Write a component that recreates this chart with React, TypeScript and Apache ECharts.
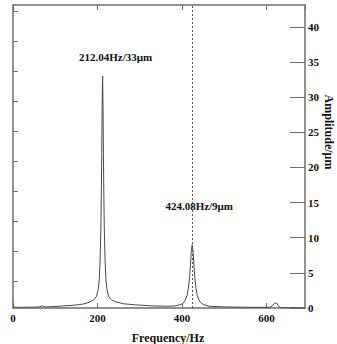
import React, { useEffect, useRef } from "react";
import * as echarts from "echarts";

// Amplitude spectrum samples: [frequency (Hz), amplitude (μm)]
const spectrum: [number, number][] = [
  [0, 0.6], [3, 0.1], [20, 0.1], [45, 0.12], [62, 0.15], [70, 0.3], [76, 0.15],
  [95, 0.2], [120, 0.3], [145, 0.4], [165, 0.55], [180, 0.8], [192, 1.2],
  [198, 1.7], [202, 2.8], [204, 4], [206, 6.5], [208, 11.5], [209, 16],
  [210, 22], [211, 29], [212.04, 33], [213, 29], [214, 22], [215, 16],
  [216, 11.5], [218, 6.5], [220, 4], [222, 2.8], [226, 1.7], [232, 1.2],
  [242, 0.9], [262, 0.6], [290, 0.45], [330, 0.3], [365, 0.25], [384, 0.3],
  [398, 0.5], [406, 0.9], [412, 1.8], [415, 2.8], [418, 4.5], [420, 6.2],
  [422, 8.1], [424.08, 9], [426, 8.1], [428, 6.2], [430, 4.5], [433, 2.8],
  [436, 1.8], [442, 0.9], [450, 0.5], [464, 0.25], [500, 0.15], [560, 0.1],
  [608, 0.1], [614, 0.3], [619, 0.7], [624, 0.7], [629, 0.2], [634, 0.05],
  [691, 0],
];

// Annotated peaks: [frequency (Hz), amplitude (μm)]
const peaks: [number, number][] = [
  [212.04, 33],
  [424.08, 9],
];
const peakLabels = ["212.04Hz/33μm", "424.08Hz/9μm"];
const peakLabelOffsets: [number, number][] = [
  [13, -19],
  [7, -39],
];

const leftTickValues = [0.9, 1.9, 2.9, 3.9, 4.9, 5.9, 6.9, 7.9, 8.9, 9.9];

const FONT = "'Liberation Serif', 'Times New Roman', serif";
const AXIS_COLOR = "#6e6e6e";

export default function App() {
  const ref = useRef<HTMLDivElement>(null);

  useEffect(() => {
    if (!ref.current) return;
    const chart = echarts.init(ref.current, undefined, { renderer: "svg" });

    const axisLine = { show: true, onZero: false, lineStyle: { color: AXIS_COLOR, width: 1.5 } };
    const tickStyle = { color: AXIS_COLOR, width: 1 };

    chart.setOption({
      animation: false,
      backgroundColor: "#ffffff",
      grid: {
        left: 13,
        right: 32,
        top: 5,
        bottom: 36,
        containLabel: false,
        outerBoundsMode: "none",
      },
      // Right-hand axis title, reading top to bottom
      graphic: [
        {
          type: "text",
          x: 329,
          y: 132,
          rotation: -Math.PI / 2,
          style: {
            text: "Amplitude/μm",
            fill: "#111",
            fontFamily: FONT,
            fontWeight: "bold",
            fontSize: 12,
            align: "center",
            verticalAlign: "middle",
          },
        },
      ],
      xAxis: [
        {
          type: "value",
          min: 0,
          max: 691,
          interval: 200,
          position: "bottom",
          axisLine,
          axisTick: { show: true, inside: true, length: 5, lineStyle: tickStyle },
          splitLine: { show: false },
          axisLabel: {
            show: true,
            margin: 4,
            color: "#111",
            fontFamily: FONT,
            fontWeight: "bold",
            fontSize: 11,
            showMaxLabel: false,
          },
          name: "Frequency/Hz",
          nameLocation: "middle",
          nameGap: 24,
          nameTextStyle: {
            color: "#111",
            fontFamily: FONT,
            fontWeight: "bold",
            fontSize: 12,
            padding: [0, 0, 0, 18],
          },
        },
        {
          type: "value",
          min: 0,
          max: 691,
          interval: 200,
          position: "top",
          axisLine,
          axisTick: { show: true, inside: true, length: 5, lineStyle: tickStyle },
          splitLine: { show: false },
          axisLabel: { show: false },
        },
      ],
      yAxis: [
        {
          type: "value",
          min: 0,
          max: 43.1,
          interval: 5,
          position: "right",
          axisLine,
          axisTick: { show: true, inside: true, length: 15, lineStyle: tickStyle },
          splitLine: { show: false },
          axisLabel: {
            show: true,
            margin: 3,
            color: "#111",
            fontFamily: FONT,
            fontWeight: "bold",
            fontSize: 11,
            showMaxLabel: false,
          },
        },
        {
          type: "value",
          min: 0,
          max: 10.1,
          position: "left",
          axisLine,
          axisTick: {
            show: true,
            inside: true,
            length: 5,
            lineStyle: tickStyle,
            customValues: leftTickValues,
          },
          splitLine: { show: false },
          axisLabel: { show: false },
        },
      ],
      series: [
        {
          type: "line",
          xAxisIndex: 0,
          yAxisIndex: 0,
          data: spectrum,
          showSymbol: false,
          symbol: "none",
          lineStyle: { color: "#4a4a4a", width: 1 },
          markLine: {
            silent: true,
            symbol: "none",
            label: { show: false },
            lineStyle: { color: "#555", type: [2, 2], width: 1 },
            data: [{ xAxis: peaks[1][0] }],
          },
          markPoint: {
            silent: true,
            symbol: "circle",
            symbolSize: 0,
            data: peaks.map((p, i) => ({
              coord: p,
              label: {
                show: true,
                position: "inside",
                offset: peakLabelOffsets[i],
                formatter: peakLabels[i],
                color: "#111",
                fontFamily: FONT,
                fontWeight: "bold",
                fontSize: 11,
              },
            })),
          },
        },
      ],
    });

    return () => chart.dispose();
  }, []);

  return (
    <div
      ref={ref}
      style={{ position: "fixed", left: 0, top: 0, width: 337, height: 344, background: "#fff" }}
    />
  );
}
